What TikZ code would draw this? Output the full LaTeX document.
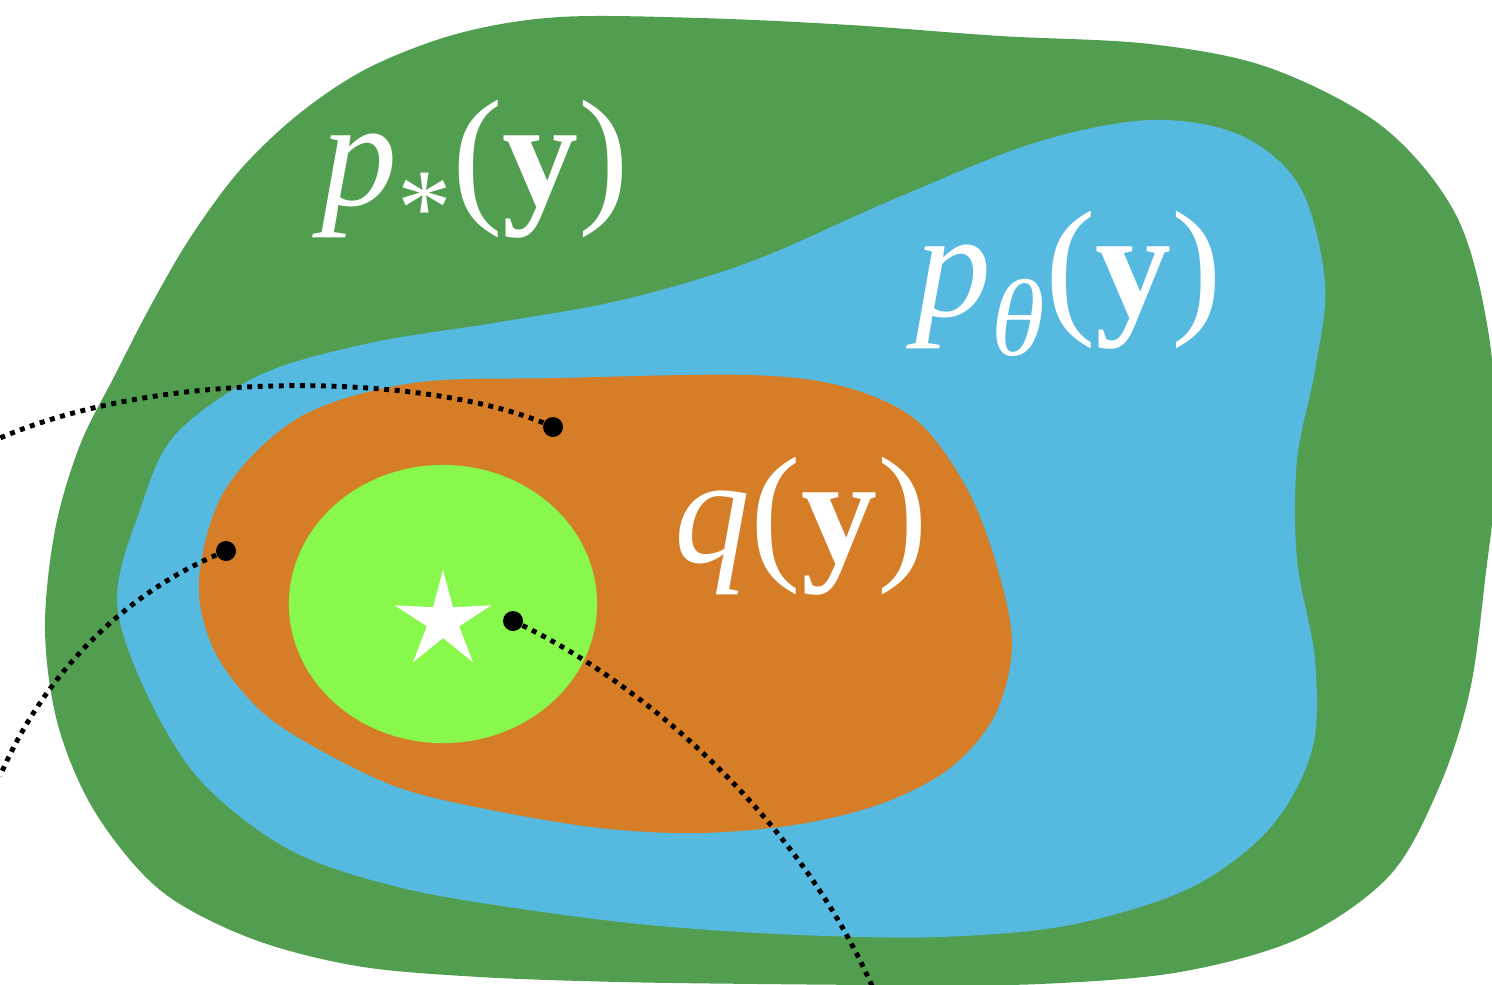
\documentclass[tikz,border=0pt]{standalone}
\usepackage{fontspec}
\newfontfamily\labfont{Liberation Serif}
\definecolor{outergreen}{RGB}{82,158,81}
\definecolor{midblue}{RGB}{85,185,224}
\definecolor{qorange}{RGB}{213,126,39}
\definecolor{limegreen}{RGB}{136,248,76}
\newcommand{\labsize}{\fontsize{43.2}{50}\selectfont}
\newcommand{\subsize}{\fontsize{31}{36}\selectfont}
\newcommand{\sublow}[1]{\raisebox{-11.1pt}{\subsize #1}}
\begin{document}
\begin{tikzpicture}[x=0.01cm,y=-0.01cm,
  blob/.style={smooth cycle, tension=0.55},
  dotpath/.style={line width=1.4pt, dash pattern=on 1.4pt off 1.6pt},
  dotmark/.style={circle, fill=black, inner sep=0pt, minimum size=0.2cm},
  lab/.style={text=white, inner sep=0pt, anchor=base west, font=\labfont\labsize}]
\useasboundingbox (0,0) rectangle (1492,984);
\begin{scope}
\clip (0,0) rectangle (1492,984);
% outer region p_*
\fill[outergreen] plot[blob] coordinates {(560,17) (700,18) (850,25) (1000,36) (1150,44) (1270,68) (1383,127) (1456,215) (1488,330) (1497,460) (1485,580) (1470,690) (1440,785) (1390,875) (1300,938) (1180,972) (1040,984) (900,985) (760,984) (620,982) (480,977) (357,966) (250,938) (160,890) (95,812) (58,725) (45,630) (55,530) (80,445) (115,375) (150,307) (190,238) (240,170) (300,113) (370,67) (460,33)};
% model region p_theta
\fill[midblue] plot[blob] coordinates {(750,262) (892,200) (1034,143) (1150,120) (1240,135) (1300,187) (1325,283) (1315,370) (1297,460) (1297,560) (1315,660) (1312,750) (1270,828) (1190,888) (1070,925) (940,937) (800,935) (660,926) (536,911) (402,888) (290,850) (200,780) (145,690) (117,600) (140,510) (175,435) (260,375) (370,343) (500,322) (622,300)};
% variational region q
\fill[qorange] plot[blob] coordinates {(300,417) (413,383) (560,378) (750,375) (845,387) (916,420) (965,485) (995,560) (1012,643) (995,715) (950,768) (883,803) (800,824) (700,833) (600,828) (491,810) (400,788) (320,750) (260,710) (214,650) (199,580) (225,490)};
% inner ellipse
\fill[limegreen] (443,604) ellipse [x radius=1.54cm, y radius=1.39cm];
% star
\fill[white, shift={(443,621)}] (-90:51) -- (-54:17) -- (-18:51) -- (18:17) -- (54:51) -- (90:17) -- (126:51) -- (162:17) -- (198:51) -- (234:17) -- cycle;
% dots and dotted paths
\node[dotmark] (dA) at (553,427) {};
\node[dotmark] (dB) at (226,551) {};
\node[dotmark] (dC) at (513,621) {};
\coordinate (eA) at (0,438);
\coordinate (eB) at (0,776);
\coordinate (eC) at (872,986);
\draw[dotpath] (dA.center) .. controls (440,375) and (170,365) .. (eA);
\draw[dotpath] (dB.center) .. controls (140,585) and (50,660) .. (eB);
\draw[dotpath] (dC.center) .. controls (620,670) and (790,800) .. (eC);
\end{scope}
% labels
\node[lab] (lp) at (321,205) {\itshape p\upshape\sublow{*}(\textbf{y})};
\node[lab] (lt) at (915,316) {\itshape p\sublow{θ}\upshape(\textbf{y})};
\node[lab] (lq) at (674,562) {\itshape q\upshape(\textbf{y})};
\end{tikzpicture}
\end{document}
